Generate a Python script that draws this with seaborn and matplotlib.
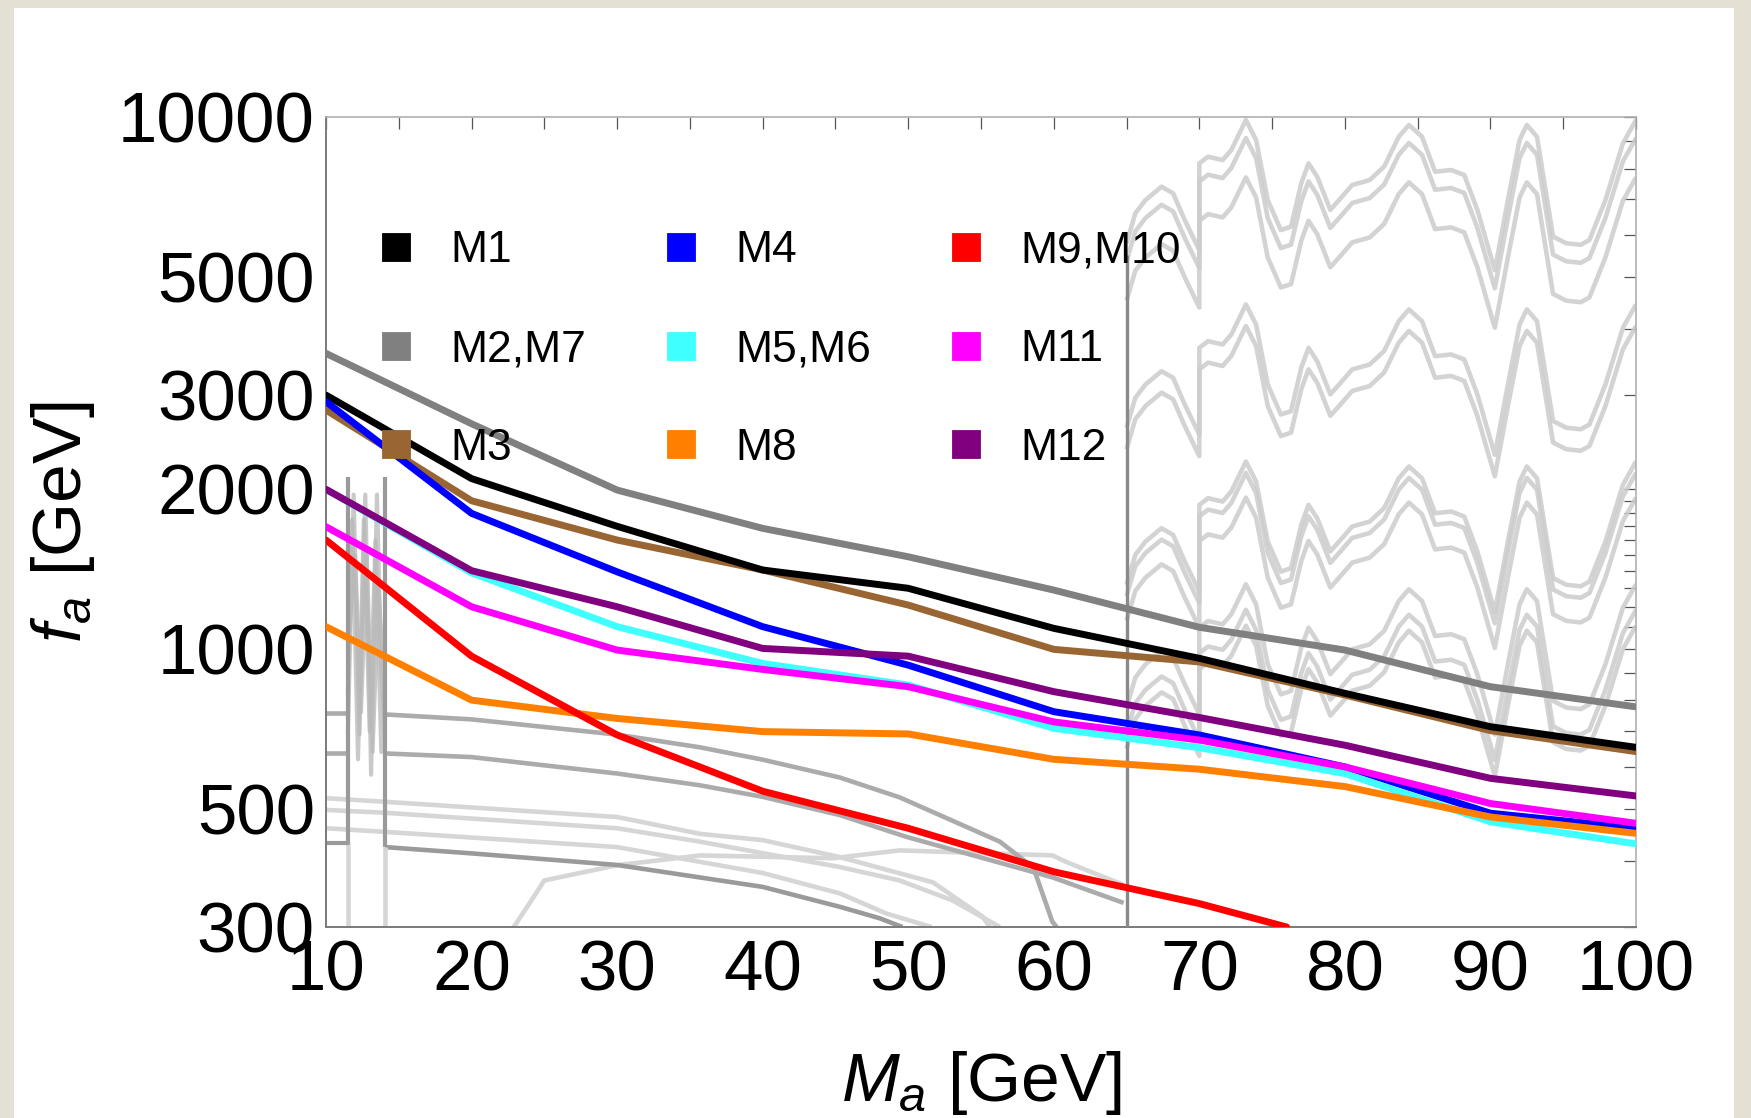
import matplotlib
matplotlib.use("Agg")
import matplotlib.pyplot as plt
import numpy as np
import pandas as pd
import seaborn as sns
from matplotlib.lines import Line2D
from matplotlib.patches import Rectangle
from matplotlib.ticker import FixedLocator, FixedFormatter, NullFormatter

# ---------------- data ----------------
mass = [10, 20, 30, 40, 50, 60, 70, 80, 90, 100]
fa_M1 = [3000, 2090, 1700, 1407, 1300, 1093, 960, 825, 714, 653]
fa_M2_M7 = [3594, 2650, 1989, 1685, 1490, 1290, 1098, 995, 849, 778]
fa_M3 = [2812, 1899, 1602, 1407, 1209, 998, 945, 819, 702, 641]
fa_M4 = [2915, 1798, 1396, 1101, 932, 762, 689, 600, 491, 460]
fa_M5_M6 = [1995, 1390, 1101, 939, 855, 709, 652, 583, 473, 430]
fa_M8 = [1101, 801, 740, 699, 692, 620, 594, 551, 483, 450]
mass_M9_M10 = [10, 20, 30, 40, 50, 60, 70, 76]
fa_M9_M10 = [1602, 969, 689, 540, 460, 381, 332, 300]
fa_M11 = [1697, 1200, 995, 915, 849, 729, 674, 600, 512, 470]
fa_M12 = [1995, 1403, 1200, 1002, 969, 831, 743, 659, 571, 529]

models = ["M1", "M2,M7", "M3", "M4", "M5,M6", "M8", "M9,M10", "M11", "M12"]
model_colors = ["#000000", "#808080", "#996633", "#0000ff", "#40ffff",
                "#ff8000", "#ff0000", "#ff00ff", "#800080"]
draw_order = ["M2,M7", "M3", "M1", "M4", "M5,M6", "M8", "M9,M10", "M11", "M12"]

# background constraint curves (Ma, fa)
wave_x = [65.0, 65.6, 66.3, 67.4, 68.2, 69.0, 70.0, 70.0, 70.6, 71.6, 72.2, 73.2,
          73.9, 74.7, 75.6, 76.3, 77.0, 77.5, 78.1, 79.0, 79.8, 80.5, 81.7, 82.7,
          83.7, 84.4, 85.3, 86.2, 87.3, 88.2, 89.1, 90.3, 91.2, 92.0, 92.5, 93.2,
          94.3, 95.2, 96.2, 96.8, 97.9, 99.1, 100.0]
wave_fa = [5790, 6590, 6980, 7395, 7185, 6400, 5620, 8180, 8420, 8300, 8670, 9870,
           9050, 6980, 6130, 6220, 7500, 8180, 7720, 6690, 7080, 7450, 7610, 8070,
           9180, 9660, 9180, 7890, 7950, 7780, 6690, 5150, 6980, 9050, 9660, 9180,
           5960, 5790, 5750, 5870, 6980, 8920, 9870]
wave_scale = [1.0, 0.925, 0.78, 0.45, 0.41, 0.228, 0.217, 0.195, 0.134, 0.12, 0.112]

edge_x = [65.0, 65.0]
edge_fa = [5500, 300]

box_left_x = [10.0, 11.5, 11.5]
box_left_fa = [431, 431, 2104]
box_right_x = [14.05, 14.05]
box_right_fa = [2104, 424]
box_drop_x = [[11.5, 11.5], [14.05, 14.05]]
box_drop_fa = [[431, 300], [424, 300]]

wig_x = [[11.5, 11.9, 12.3, 12.7, 13.1, 13.5, 13.8, 14.05],
         [11.5, 11.8, 12.2, 12.6, 13.0, 13.4, 13.8, 14.05],
         [11.5, 12.0, 12.4, 12.8, 13.2, 13.6, 14.05]]
wig_fa = [[690, 1950, 690, 1950, 580, 1950, 900, 700],
          [820, 1750, 620, 1750, 700, 1600, 640, 900],
          [1000, 1500, 760, 1500, 640, 1300, 800]]

c0_x = [14.05, 20, 30, 40, 45.3, 48, 49.6]
c0_fa = [424, 412.6, 392.4, 356.9, 327.4, 311.8, 300]
c1_stub_x = [10.0, 11.5]
c1_stub_fa = [759, 759]
c1_x = [14.05, 20, 30, 35.7, 40, 45.3, 49.4, 56.3, 58.6, 59.9, 60.2]
c1_fa = [753, 737, 690, 653, 619, 573, 526, 434, 388, 307, 300]
c2_stub_x = [10.0, 11.5]
c2_stub_fa = [636, 636]
c2_x = [14.05, 20, 30, 35.7, 40, 45.3, 49.9, 59.9, 64.8]
c2_fa = [636, 626, 583, 554, 527, 487, 443, 372, 333]

light_x = [[10, 14, 30, 35.7, 40, 45.3, 51.7, 55.1, 55.6],
           [10, 14, 30, 35.7, 40, 45.3, 49.4, 53.0, 56.3],
           [10, 14, 30, 40, 45.3, 48.5, 51.6]]
light_fa = [[524, 516, 483, 449, 437, 406, 364, 314, 300],
            [498, 492, 460, 434, 413, 389, 367, 337, 300],
            [460, 453, 424, 379, 347, 318, 300]]
hump_x = [22.9, 24.0, 25.0, 30, 35.7, 44.8, 49.4, 59.9, 61.0, 64.8]
hump_fa = [300, 333, 367, 392, 409, 404, 418, 409, 396, 360]

y_major = [300, 500, 1000, 2000, 3000, 5000, 10000]
y_minor = [400, 600, 700, 800, 900, 1100, 1200, 1300, 1400, 1500, 1600, 1700,
           1800, 1900, 4000, 6000, 7000, 8000, 9000]
x_major = [10, 20, 30, 40, 50, 60, 70, 80, 90, 100]
x_minor = [15, 25, 35, 45, 55, 65, 75, 85, 95]

# ---------------- style ----------------
sns.set_theme(style="white")
plt.rcParams['font.family'] = ['Liberation Sans', 'DejaVu Sans']
plt.rcParams['mathtext.fontset'] = 'custom'
plt.rcParams['mathtext.it'] = 'Liberation Sans:italic'
plt.rcParams['mathtext.rm'] = 'Liberation Sans'
plt.rcParams['text.color'] = 'black'
plt.rcParams['axes.labelcolor'] = 'black'
plt.rcParams['xtick.labelcolor'] = 'black'
plt.rcParams['ytick.labelcolor'] = 'black'

fig = plt.figure(figsize=(17.51, 11.18), dpi=100)
fig.patch.set_facecolor('#e4e0d4')
fig.patches.append(Rectangle((0.008, 0.0), 0.9823, 0.9929, transform=fig.transFigure,
                             facecolor='white', edgecolor='none', zorder=-5))
ax = fig.add_axes([0.18618, 0.17084, 0.74814, 0.72451])
ax.set_zorder(2)
ax.set_facecolor('white')


def gray_line(xs, ys, color, lw, z=1, alpha=1.0):
    sns.lineplot(x=xs, y=ys, sort=False, estimator=None, color=color, lw=lw,
                 alpha=alpha, ax=ax, zorder=z, legend=False,
                 solid_joinstyle='round', solid_capstyle='butt')


# oscillating bands on the right
for s in wave_scale:
    gray_line(wave_x, [v * s for v in wave_fa], '#cccccc', 3.3, z=1, alpha=0.85)

# lower-left constraint curves
for xs, ys in zip(light_x, light_fa):
    gray_line(xs, ys, '#d6d6d6', 3.3, z=1)
gray_line(hump_x, hump_fa, '#d6d6d6', 3.3, z=1)
gray_line(c1_stub_x, c1_stub_fa, '#ababab', 3.3, z=2)
gray_line(c1_x, c1_fa, '#ababab', 3.3, z=2)
gray_line(c2_stub_x, c2_stub_fa, '#ababab', 3.3, z=2)
gray_line(c2_x, c2_fa, '#ababab', 3.3, z=2)
gray_line(c0_x, c0_fa, '#9a9a9a', 3.3, z=2)
for xs, ys in zip(wig_x, wig_fa):
    gray_line(xs, ys, '#b8b8b8', 3.0, z=2, alpha=0.75)
for xs, ys in zip(box_drop_x, box_drop_fa):
    gray_line(xs, ys, '#d6d6d6', 3.3, z=2)
gray_line(box_left_x, box_left_fa, '#9a9a9a', 3.0, z=2)
gray_line(box_right_x, box_right_fa, '#9a9a9a', 3.0, z=2)
gray_line(edge_x, edge_fa, '#8a8a8a', 2.4, z=3)

# model curves
frames = []
series = {"M1": fa_M1, "M2,M7": fa_M2_M7, "M3": fa_M3, "M4": fa_M4,
          "M5,M6": fa_M5_M6, "M8": fa_M8, "M11": fa_M11, "M12": fa_M12}
for name, vals in series.items():
    frames.append(pd.DataFrame({"Ma": mass, "fa": vals, "model": name}))
frames.append(pd.DataFrame({"Ma": mass_M9_M10, "fa": fa_M9_M10, "model": "M9,M10"}))
df = pd.concat(frames, ignore_index=True)
palette = dict(zip(models, model_colors))
sns.lineplot(data=df, x="Ma", y="fa", hue="model", hue_order=draw_order,
             palette=palette, lw=5.0, estimator=None, sort=False, legend=False,
             ax=ax, zorder=5, solid_joinstyle='round')

# ---------------- axes ----------------
ax.set_yscale('log')
ax.set_xlim(10, 100)
ax.set_ylim(300, 10000)
ax.yaxis.set_major_locator(FixedLocator(y_major))
ax.yaxis.set_major_formatter(FixedFormatter([str(v) for v in y_major]))
ax.yaxis.set_minor_locator(FixedLocator(y_minor))
ax.yaxis.set_minor_formatter(NullFormatter())
ax.xaxis.set_major_locator(FixedLocator(x_major))
ax.xaxis.set_major_formatter(FixedFormatter([str(v) for v in x_major]))
ax.xaxis.set_minor_locator(FixedLocator(x_minor))
ax.tick_params(which='both', direction='in', top=True, right=True,
               length=8.6, width=0.9, color='#555555')
ax.tick_params(axis='y', which='major', labelsize=51, pad=8, labelcolor='black')
ax.tick_params(axis='x', which='major', labelsize=51, pad=9, labelcolor='black')
for side in ['left', 'bottom']:
    ax.spines[side].set_color('#7a7a7a')
    ax.spines[side].set_linewidth(1.4)
for side in ['top', 'right']:
    ax.spines[side].set_color('#b0b0b0')
    ax.spines[side].set_linewidth(1.2)
ax.grid(False)

ax.set_xlabel(r'$M_a$ [GeV]', fontsize=50, color='black')
ax.set_ylabel(r'$f_a$ [GeV]', fontsize=50, color='black')
ax.xaxis.set_label_coords(0.5, -0.151)
ax.yaxis.set_label_coords(-0.175, 0.5)

# legend with square swatches
handles = []
for name, col in zip(models, model_colors):
    handles.append(Line2D([], [], ls='none', marker='s', markersize=20.5,
                          markerfacecolor=col, markeredgecolor=col,
                          markeredgewidth=0.6, label=name))
leg = ax.legend(handles=handles, ncol=3, loc='upper left',
                bbox_to_anchor=(0.0397, 0.8600), frameon=False, fontsize=32,
                handlelength=0.8, handletextpad=0.82, columnspacing=1.74,
                labelspacing=1.30, borderpad=0, borderaxespad=0,
                labelcolor='black')
leg.set_zorder(10)

fig.savefig('out.png', dpi=100, facecolor=fig.get_facecolor())
